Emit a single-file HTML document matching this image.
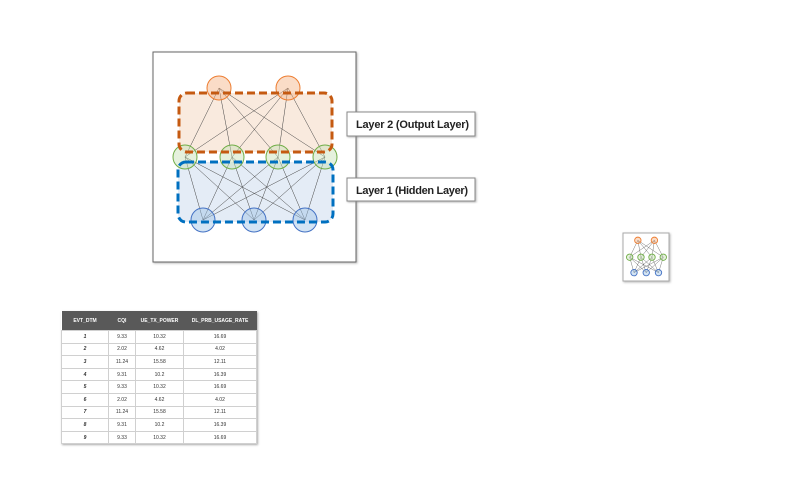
<!DOCTYPE html>
<html><head><meta charset="utf-8"><style>
body{margin:0;width:800px;height:493px;background:#fff;font-family:"Liberation Sans",sans-serif;position:relative;overflow:hidden}
table{position:absolute;left:61px;top:311px;border-collapse:collapse;font-size:5px;color:#333;box-shadow:1px 1px 2px #aaa}
th{background:#595959;color:#fff;height:19px;font-weight:bold;padding:0}
td{height:11.6px;border:1px solid #d0d0d0;text-align:center;padding:0;background:#fff}
td:first-child{font-style:italic;font-weight:bold}
</style></head><body>
<svg width="800" height="493" style="position:absolute;left:0;top:0">
<defs><filter id="sh"><feDropShadow dx="1" dy="1" stdDeviation="1" flood-color="#888" flood-opacity="0.6"/></filter></defs>
<rect x="153" y="52" width="203" height="210" fill="#fff" stroke="#666" stroke-width="1" filter="url(#sh)"/>
<rect x="179" y="93" width="153" height="59" rx="8" fill="#f8e5d6" opacity="0.8"/>
<rect x="178" y="162" width="155" height="60" rx="8" fill="#dde7f4" opacity="0.8"/>
<g id="lines" stroke="#444" stroke-width="0.5"></g>
<g id="nodes"></g>
<rect x="179" y="93" width="153" height="59" rx="8" fill="none" stroke="#c55a11" stroke-width="3" stroke-dasharray="8,4"/>
<rect x="178" y="162" width="155" height="60" rx="8" fill="none" stroke="#0070c0" stroke-width="3" stroke-dasharray="8,4"/>
<g><rect x="347" y="112" width="128" height="24" fill="#fff" stroke="#888" filter="url(#sh)"/><text x="356" y="128" font-size="11" font-weight="bold" fill="#222" textLength="113">Layer 2 (Output Layer)</text></g>
<g><rect x="347" y="178" width="128" height="23" fill="#fff" stroke="#888" filter="url(#sh)"/><text x="356" y="194" font-size="11" font-weight="bold" fill="#222" textLength="112">Layer 1 (Hidden Layer)</text></g>
<rect x="623" y="233" width="46" height="48" fill="#fff" stroke="#aaa" filter="url(#sh)"/>
<g id="mini" stroke="#555" stroke-width="0.4"></g>
</svg>
<script>
const out=[[219,88],[288,88]],hid=[[185,157],[232,157],[278,157],[325,157]],inp=[[203,220],[254,220],[305,220]];
const NS="http://www.w3.org/2000/svg";
function draw(g,o,h,i,r,sw,ng){
 for(const a of o)for(const b of h){const l=document.createElementNS(NS,'line');l.setAttribute('x1',a[0]);l.setAttribute('y1',a[1]);l.setAttribute('x2',b[0]);l.setAttribute('y2',b[1]);g.appendChild(l);}
 for(const a of h)for(const b of i){const l=document.createElementNS(NS,'line');l.setAttribute('x1',a[0]);l.setAttribute('y1',a[1]);l.setAttribute('x2',b[0]);l.setAttribute('y2',b[1]);g.appendChild(l);}
 [[o,'#f4b183','#ed7d31'],[h,'#c5e0b4','#70ad47'],[i,'#9dc3e6','#4472c4']].forEach(([arr,f,s])=>arr.forEach(p=>{const c=document.createElementNS(NS,'circle');c.setAttribute('cx',p[0]);c.setAttribute('cy',p[1]);c.setAttribute('r',r);c.setAttribute('fill',f);c.setAttribute('fill-opacity','0.45');c.setAttribute('stroke',s);c.setAttribute('stroke-width',sw);
 
 
 ng.appendChild(c);}));
}
draw(document.getElementById('lines'),out,hid,inp,12,1,document.getElementById('nodes'));
const m=(p)=>[622+(p[0]-153)*0.24,233+(p[1]-52)*0.245-1.5];
draw(document.getElementById('mini'),out.map(m),hid.map(m),inp.map(m),3.2,0.9,document.getElementById('mini'));
</script>
<table>
<tr><th style="width:47px">EVT_DTM</th><th style="width:27px">CQI</th><th style="width:48px">UE_TX_POWER</th><th style="width:73px">DL_PRB_USAGE_RATE</th></tr>
<tr><td>1</td><td>9.33</td><td>10.32</td><td>16.69</td></tr>
<tr><td>2</td><td>2.02</td><td>4.62</td><td>4.02</td></tr>
<tr><td>3</td><td>11.24</td><td>15.58</td><td>12.11</td></tr>
<tr><td>4</td><td>9.31</td><td>10.2</td><td>16.39</td></tr>
<tr><td>5</td><td>9.33</td><td>10.32</td><td>16.69</td></tr>
<tr><td>6</td><td>2.02</td><td>4.62</td><td>4.02</td></tr>
<tr><td>7</td><td>11.24</td><td>15.58</td><td>12.11</td></tr>
<tr><td>8</td><td>9.31</td><td>10.2</td><td>16.39</td></tr>
<tr><td>9</td><td>9.33</td><td>10.32</td><td>16.69</td></tr>
</table>
</body></html>
